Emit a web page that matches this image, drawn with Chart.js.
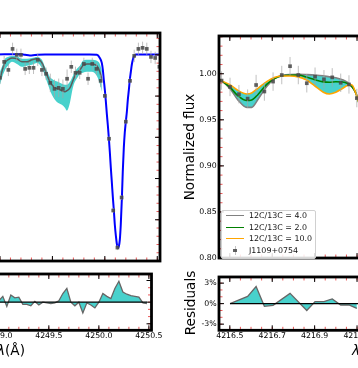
<!DOCTYPE html>
<html><head><meta charset="utf-8">
<script src="https://cdn.jsdelivr.net/npm/chart.js@4.4.1/dist/chart.umd.min.js"></script>
<style>
html,body{margin:0;padding:0;width:358px;height:368px;overflow:hidden;background:#fff;font-family:'DejaVu Sans',sans-serif;}
body{position:relative;}
canvas{position:absolute;}
.lab{position:absolute;white-space:nowrap;font-family:'DejaVu Sans',sans-serif;font-size:13.6px;color:#000;line-height:16px;}
#legend{position:absolute;left:221px;top:210px;width:93px;height:47px;background:rgba(255,255,255,0.85);border:1px solid #d0d0d0;border-radius:2px;font-family:'DejaVu Sans',sans-serif;font-size:7.9px;color:#111;z-index:5;}
#legend .ln{position:absolute;left:4px;width:18px;height:0;}
#legend .tx{position:absolute;left:27px;line-height:10px;white-space:nowrap;}
</style></head><body>
<canvas id="c1" width="189" height="236" style="left:-25px;top:29px"></canvas>
<canvas id="c2" width="189" height="80" style="left:-25px;top:269.7px"></canvas>
<canvas id="c3" width="196" height="236" style="left:189px;top:29px"></canvas>
<canvas id="c4" width="196" height="80" style="left:189px;top:269.7px"></canvas>

<div class="lab" style="left:189px;top:147px;transform:translate(-50%,-50%) rotate(-90deg);">Normalized flux</div>
<div class="lab" style="left:190px;top:303px;transform:translate(-50%,-50%) rotate(-90deg);">Residuals</div>
<div class="lab" style="left:-3px;top:342px;"><i>λ</i>(Å)</div>
<div class="lab" style="left:352px;top:342px;"><i>λ</i>(Å)</div>

<div id="legend">
  <div class="ln" style="top:5px;border-top:1.8px solid #808080;margin-top:-0.9px"></div>
  <div class="tx" style="top:0px">12C/13C = 4.0</div>
  <div class="ln" style="top:16.5px;border-top:1.8px solid #008000;margin-top:-0.9px"></div>
  <div class="tx" style="top:11.5px">12C/13C = 2.0</div>
  <div class="ln" style="top:28px;border-top:1.8px solid #ffa500;margin-top:-0.9px"></div>
  <div class="tx" style="top:23px">12C/13C = 10.0</div>
  <div style="position:absolute;left:12.5px;top:35px;width:1px;height:9px;background:rgba(170,170,170,0.7)"></div>
  <div style="position:absolute;left:11.2px;top:37.7px;width:3.6px;height:3.6px;background:rgba(70,70,70,0.85)"></div>
  <div class="tx" style="top:34.5px">J1109+0754</div>
</div>

<script>
// ---------------- data: left panel (near 4250 Å) ----------------
const leftObsWave = [4249.00, 4249.04, 4249.08, 4249.12, 4249.16, 4249.20, 4249.24, 4249.28, 4249.32, 4249.36,
  4249.40, 4249.44, 4249.48, 4249.52, 4249.56, 4249.60, 4249.64, 4249.68, 4249.72, 4249.76,
  4249.80, 4249.84, 4249.88, 4249.92, 4249.96, 4250.00, 4250.04, 4250.08, 4250.12, 4250.16,
  4250.20, 4250.24, 4250.28, 4250.32, 4250.36, 4250.40, 4250.44, 4250.48, 4250.52];
const leftObsFlux = [0.889, 0.966, 0.927, 1.029, 1.000, 1.000, 0.932, 0.937, 0.937, 0.976,
  0.927, 0.908, 0.864, 0.835, 0.840, 0.835, 0.884, 0.942, 0.913, 0.913,
  0.956, 0.884, 0.956, 0.932, 0.874, 0.801, 0.593, 0.245, 0.065, 0.308,
  0.676, 0.874, 0.995, 1.029, 1.034, 1.029, 0.990, 0.985, 0.942];
const leftObsErr = [0.03, 0.03, 0.03, 0.03, 0.03, 0.03, 0.03, 0.03, 0.03, 0.03,
  0.03, 0.03, 0.045, 0.045, 0.045, 0.045, 0.045, 0.03, 0.03, 0.03,
  0.03, 0.03, 0.03, 0.03, 0.03, 0.012, 0.012, 0.012, 0.012, 0.012,
  0.012, 0.012, 0.03, 0.03, 0.03, 0.03, 0.03, 0.03, 0.03];

const leftFitWave = [4248.970, 4249.190, 4249.238, 4249.286, 4249.333, 4249.429, 4249.857, 4249.924, 4249.952, 4249.971,
  4249.981, 4249.990, 4250.000, 4250.010, 4250.019, 4250.029, 4250.038, 4250.048, 4250.057, 4250.067,
  4250.076, 4250.086, 4250.095, 4250.105, 4250.114, 4250.124, 4250.133, 4250.143, 4250.152, 4250.162,
  4250.171, 4250.181, 4250.190, 4250.200, 4250.210, 4250.219, 4250.229, 4250.238, 4250.248, 4250.257,
  4250.267, 4250.276, 4250.286, 4250.295, 4250.530];
const leftFitFlux = [1.002, 1.003, 1.000, 0.997, 0.999, 1.002, 1.002, 1.000, 0.985, 0.961,
  0.927, 0.879, 0.830, 0.772, 0.714, 0.656, 0.598, 0.525, 0.453, 0.380,
  0.312, 0.245, 0.177, 0.123, 0.085, 0.063, 0.070, 0.104, 0.177, 0.298,
  0.433, 0.550, 0.622, 0.676, 0.724, 0.782, 0.830, 0.879, 0.918, 0.952,
  0.976, 0.990, 0.998, 1.002, 1.002];

const leftBandWave = [4248.971, 4249.000, 4249.029, 4249.048, 4249.076, 4249.114, 4249.162, 4249.210, 4249.257, 4249.305,
  4249.352, 4249.400, 4249.429, 4249.448, 4249.476, 4249.495, 4249.524, 4249.552, 4249.590, 4249.619,
  4249.638, 4249.667, 4249.695, 4249.714, 4249.743, 4249.762, 4249.790, 4249.829, 4249.876, 4249.924,
  4249.952, 4249.971];
const leftBandUpper = [0.889, 0.918, 0.956, 0.981, 0.990, 0.995, 0.993, 0.981, 0.981, 0.985,
  0.990, 0.976, 0.942, 0.923, 0.893, 0.884, 0.874, 0.869, 0.860, 0.855,
  0.855, 0.869, 0.898, 0.918, 0.937, 0.947, 0.971, 0.976, 0.976, 0.971,
  0.956, 0.927];
const leftBandLower = [0.806, 0.855, 0.903, 0.927, 0.947, 0.966, 0.956, 0.942, 0.947, 0.952,
  0.961, 0.937, 0.898, 0.869, 0.830, 0.806, 0.782, 0.768, 0.758, 0.743,
  0.729, 0.768, 0.840, 0.869, 0.893, 0.908, 0.913, 0.918, 0.918, 0.898,
  0.860, 0.821];
const leftModelFlux = [0.850, 0.884, 0.937, 0.961, 0.976, 0.985, 0.981, 0.966, 0.966, 0.976,
  0.981, 0.961, 0.927, 0.903, 0.869, 0.855, 0.840, 0.835, 0.826, 0.821,
  0.826, 0.840, 0.874, 0.898, 0.918, 0.927, 0.947, 0.956, 0.956, 0.947,
  0.918, 0.884];

const leftResidWave = leftObsWave.slice(0, 38);
const leftResid = [0.2, 0.8, -0.6, 1.0, 0.6, 0.7, -0.3, -0.3, -0.5, 0.1,
  -0.4, 0.0, -0.1, -0.2, -0.1, 0.2, 1.2, 1.9, 0.0, -0.5,
  0.0, -1.5, -0.1, -0.4, -0.8, 0.0, 1.2, 0.8, 0.5, 1.9,
  2.9, 1.4, 1.1, 0.9, 0.8, 0.7, -0.1, -0.2];

// ---------------- data: right panel (near 4216.8 Å) ----------------
const rightObsWave = [4216.461, 4216.501, 4216.543, 4216.584, 4216.624, 4216.663, 4216.704, 4216.745, 4216.784,
  4216.823, 4216.863, 4216.902, 4216.944, 4216.983, 4217.023, 4217.062, 4217.099];
const rightObsFlux = [0.9926, 0.9857, 0.9778, 0.9730, 0.9878, 0.9807, 0.9915, 0.9986, 1.0082,
  0.9986, 0.9897, 0.9968, 0.9940, 0.9961, 0.9902, 0.9884, 0.9736];
const rightObsErr = [0.010, 0.010, 0.010, 0.010, 0.011, 0.010, 0.010, 0.010, 0.010,
  0.010, 0.010, 0.010, 0.010, 0.010, 0.010, 0.010, 0.010];

const rightModelWave = [4216.449, 4216.462, 4216.501, 4216.540, 4216.580, 4216.603, 4216.634, 4216.674, 4216.713, 4216.750,
  4216.784, 4216.823, 4216.860, 4216.900, 4216.941, 4216.970, 4217.000, 4217.031, 4217.056, 4217.075,
  4217.094, 4217.110, 4217.130];
const modelRatio4 = [0.9942, 0.9923, 0.9838, 0.9711, 0.9635, 0.9635, 0.9725, 0.9863, 0.9950, 0.9984,
  0.9992, 0.9993, 0.9991, 0.9987, 0.9978, 0.9966, 0.9957, 0.9935, 0.9905, 0.9862,
  0.9792, 0.9686, 0.9500];
const modelRatio2 = [0.9942, 0.9923, 0.9852, 0.9757, 0.9709, 0.9715, 0.9778, 0.9884, 0.9952, 0.9979,
  0.9984, 0.9986, 0.9964, 0.9935, 0.9912, 0.9908, 0.9913, 0.9910, 0.9893, 0.9862,
  0.9792, 0.9669, 0.9480];
const modelRatio10 = [0.9942, 0.9923, 0.9881, 0.9817, 0.9781, 0.9792, 0.9845, 0.9915, 0.9961, 0.9976,
  0.9976, 0.9966, 0.9935, 0.9870, 0.9800, 0.9781, 0.9800, 0.9840, 0.9875, 0.9880,
  0.9790, 0.9680, 0.9500];

const rightResidWave = [4216.501, 4216.584, 4216.624, 4216.663, 4216.704, 4216.784, 4216.863, 4216.902, 4216.944,
  4216.983, 4217.023, 4217.062, 4217.099];
const rightResid = [0.0, 1.05, 2.5, -0.4, -0.25, 1.5, -1.0, 0.3, 0.3, 0.7, -0.2, -0.2, -0.7];

// ---------------- tick labels ----------------
const leftWaveTicks = [4249.0, 4249.5, 4250.0, 4250.5];
const rightWaveTicks = [4216.5, 4216.7, 4216.9, 4217.1];
const leftFluxTicks = [0.0, 0.2, 0.4, 0.6, 0.8, 1.0];
const rightFluxTicks = [0.80, 0.85, 0.90, 0.95, 1.00];
const residTicks = [-3, 0, 3];

// ---------------- helpers ----------------
const CYAN = '#48D1CC';
const tickFont = {family: 'DejaVu Sans', size: 7.8};
const pts = (xs, ys) => xs.map((x, i) => ({x: x, y: ys[i]}));

function minorVals(min, max, step) {
  const out = [];
  const k0 = Math.ceil(min / step - 1e-6), k1 = Math.floor(max / step + 1e-6);
  for (let k = k0; k <= k1; k++) out.push(k * step);
  return out;
}

function axesDeco(c) {
  return {
    id: 'axesDeco',
    afterDraw(chart) {
      const ctx = chart.ctx, a = chart.chartArea, xs = chart.scales.x, ys = chart.scales.y;
      ctx.save();
      const drawX = (vals, len, color) => {
        ctx.strokeStyle = color; ctx.lineWidth = 1; ctx.beginPath();
        vals.forEach(v => {
          const p = xs.getPixelForValue(v);
          if (p < a.left - 0.5 || p > a.right + 0.5) return;
          ctx.moveTo(p, a.bottom); ctx.lineTo(p, a.bottom - len);
          ctx.moveTo(p, a.top); ctx.lineTo(p, a.top + len);
        });
        ctx.stroke();
      };
      const drawY = (vals, len, color) => {
        ctx.strokeStyle = color; ctx.lineWidth = 1; ctx.beginPath();
        vals.forEach(v => {
          const p = ys.getPixelForValue(v);
          if (p < a.top - 0.5 || p > a.bottom + 0.5) return;
          ctx.moveTo(a.left, p); ctx.lineTo(a.left + len, p);
          ctx.moveTo(a.right, p); ctx.lineTo(a.right - len, p);
        });
        ctx.stroke();
      };
      const red = 'rgba(232,70,70,0.9)';
      drawX(minorVals(xs.min, xs.max, c.xMinor), 3.5, red);
      drawY(minorVals(ys.min, ys.max, c.yMinor), 3.5, red);
      drawX(c.xMajor, 5, '#000');
      drawY(c.yMajor, 5, '#000');
      ctx.strokeStyle = '#000'; ctx.lineWidth = 2.8;
      ctx.strokeRect(a.left, a.top, a.right - a.left, a.bottom - a.top);
      ctx.restore();
    }
  };
}

function errorBars(wave, flux, err, idx) {
  return {
    id: 'errorBars',
    beforeDatasetDraw(chart, args) {
      if (args.index !== idx) return;
      const ctx = chart.ctx, a = chart.chartArea, xs = chart.scales.x, ys = chart.scales.y;
      ctx.save();
      ctx.beginPath(); ctx.rect(a.left, a.top, a.right - a.left, a.bottom - a.top); ctx.clip();
      ctx.strokeStyle = 'rgba(165,165,165,0.7)'; ctx.lineWidth = 1;
      ctx.beginPath();
      wave.forEach((w, i) => {
        const px = xs.getPixelForValue(w);
        ctx.moveTo(px, ys.getPixelForValue(flux[i] - err[i]));
        ctx.lineTo(px, ys.getPixelForValue(flux[i] + err[i]));
      });
      ctx.stroke();
      ctx.restore();
    }
  };
}

function scaleCfg(min, max, show, ticksArr, fmt, fitKey, fitVal, pad) {
  return {
    type: 'linear', min: min, max: max, display: show,
    grid: {display: false, drawTicks: false, tickLength: 0}, border: {display: false},
    ticks: {display: show, font: tickFont, color: '#000', padding: pad, autoSkip: false,
            maxRotation: 0, minRotation: 0, callback: fmt},
    afterBuildTicks: s => { s.ticks = ticksArr.map(v => ({value: v})); },
    afterFit: s => { if (fitKey) s[fitKey] = fitVal; }
  };
}

function baseOpts(padding, xScale, yScale) {
  return {
    responsive: false, animation: false, devicePixelRatio: 1,
    layout: {padding: padding},
    plugins: {legend: {display: false}, tooltip: {enabled: false}, filler: {drawTime: 'beforeDatasetsDraw'}},
    events: [],
    scales: {x: xScale, y: yScale}
  };
}

const fmt1 = v => Number(v).toFixed(1);
const fmt2 = v => Number(v).toFixed(2);
const fmtPct = v => v + '%';

// ---------------- chart 1: left spectrum ----------------
new Chart(document.getElementById('c1'), {
  type: 'scatter',
  data: {datasets: [
    {data: pts(leftObsWave, leftObsFlux), pointStyle: 'rect', pointRadius: 2.6,
     pointBackgroundColor: 'rgba(70,70,70,0.85)', pointBorderWidth: 0, showLine: false},
    {data: pts(leftFitWave, leftFitFlux), showLine: true, borderColor: '#0000ff', borderWidth: 2,
     pointRadius: 0, cubicInterpolationMode: 'monotone', fill: false},
    {data: pts(leftBandWave, leftModelFlux), showLine: true, borderColor: '#5a5a5a', borderWidth: 1.5,
     pointRadius: 0, cubicInterpolationMode: 'monotone', fill: false},
    {data: pts(leftBandWave, leftBandLower), showLine: true, borderWidth: 0, borderColor: 'rgba(0,0,0,0)',
     pointRadius: 0, cubicInterpolationMode: 'monotone', fill: '+1', backgroundColor: CYAN},
    {data: pts(leftBandWave, leftBandUpper), showLine: true, borderWidth: 0, borderColor: 'rgba(0,0,0,0)',
     pointRadius: 0, cubicInterpolationMode: 'monotone', fill: false}
  ]},
  options: baseOpts({left: 3.8, right: 4, top: 4, bottom: 4},
    scaleCfg(4248.8, 4250.526, false, leftWaveTicks, fmt1, null, 0, 2),
    scaleCfg(0.0, 1.106, false, leftFluxTicks, fmt2, null, 0, 2)),
  plugins: [errorBars(leftObsWave, leftObsFlux, leftObsErr, 0),
            axesDeco({xMajor: [4248.5].concat(leftWaveTicks), xMinor: 0.1, yMajor: leftFluxTicks, yMinor: 0.04})]
});

// ---------------- chart 2: left residuals ----------------
new Chart(document.getElementById('c2'), {
  type: 'scatter',
  data: {datasets: [
    {data: pts([leftResidWave[0], leftResidWave[leftResidWave.length - 1]], [0, 0]), showLine: true,
     borderColor: '#000', borderWidth: 1.3, pointRadius: 0, fill: false},
    {data: pts(leftResidWave, leftResid), showLine: true, borderColor: '#666', borderWidth: 1.3,
     pointRadius: 0, tension: 0, fill: 'origin', backgroundColor: CYAN}
  ]},
  options: baseOpts({left: 3.8, right: 4, top: 4, bottom: 0},
    scaleCfg(4248.8, 4250.526, true, leftWaveTicks, fmt1, 'height', 19.7, 1.4),
    scaleCfg(-3.9, 3.9, false, residTicks, fmtPct, null, 0, 2)),
  plugins: [axesDeco({xMajor: [4248.5].concat(leftWaveTicks), xMinor: 0.1, yMajor: residTicks, yMinor: 1})]
});

// ---------------- chart 3: right spectrum ----------------
new Chart(document.getElementById('c3'), {
  type: 'scatter',
  data: {datasets: [
    {data: pts(rightObsWave, rightObsFlux), pointStyle: 'rect', pointRadius: 2.6,
     pointBackgroundColor: 'rgba(70,70,70,0.85)', pointBorderWidth: 0, showLine: false},
    {data: pts(rightModelWave, modelRatio10), showLine: true, borderColor: '#ffa500', borderWidth: 1.6,
     pointRadius: 0, cubicInterpolationMode: 'monotone', fill: 3, backgroundColor: CYAN},
    {data: pts(rightModelWave, modelRatio2), showLine: true, borderColor: '#008000', borderWidth: 1.6,
     pointRadius: 0, cubicInterpolationMode: 'monotone', fill: false},
    {data: pts(rightModelWave, modelRatio4), showLine: true, borderColor: '#808080', borderWidth: 1.6,
     pointRadius: 0, cubicInterpolationMode: 'monotone', fill: false}
  ]},
  options: baseOpts({left: 0, right: 4, top: 4, bottom: 4},
    scaleCfg(4216.449, 4217.213, false, rightWaveTicks, fmt1, null, 0, 2),
    scaleCfg(0.80, 1.041, true, rightFluxTicks, fmt2, 'width', 30, 2.3)),
  plugins: [errorBars(rightObsWave, rightObsFlux, rightObsErr, 0),
            axesDeco({xMajor: rightWaveTicks, xMinor: 0.05, yMajor: rightFluxTicks, yMinor: 0.01})]
});

// ---------------- chart 4: right residuals ----------------
new Chart(document.getElementById('c4'), {
  type: 'scatter',
  data: {datasets: [
    {data: pts([rightResidWave[0], 4217.25], [0, 0]), showLine: true,
     borderColor: '#000', borderWidth: 1.3, pointRadius: 0, fill: false},
    {data: pts(rightResidWave, rightResid), showLine: true, borderColor: '#666', borderWidth: 1.3,
     pointRadius: 0, tension: 0, fill: 'origin', backgroundColor: CYAN}
  ]},
  options: baseOpts({left: 0, right: 4, top: 4, bottom: 0},
    scaleCfg(4216.449, 4217.213, true, rightWaveTicks, fmt1, 'height', 19.7, 1.4),
    scaleCfg(-3.9, 3.9, true, residTicks, fmtPct, 'width', 30, 2.3)),
  plugins: [axesDeco({xMajor: rightWaveTicks, xMinor: 0.05, yMajor: residTicks, yMinor: 1})]
});
</script>
</body></html>
